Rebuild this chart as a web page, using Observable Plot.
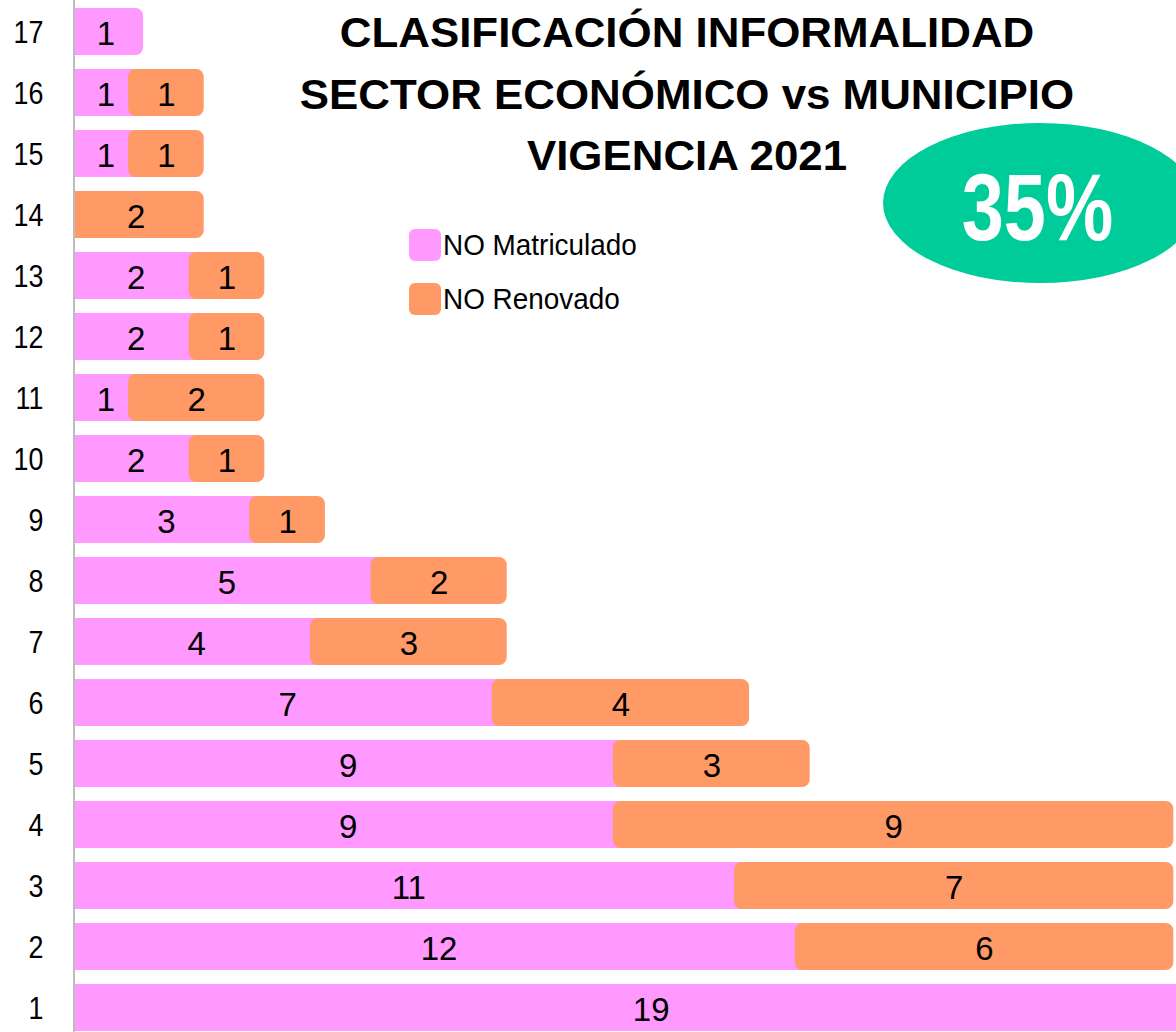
<!DOCTYPE html>
<html>
<head>
<meta charset="utf-8">
<script src="https://cdn.jsdelivr.net/npm/d3@7"></script>
<script src="https://cdn.jsdelivr.net/npm/@observablehq/plot@0.6"></script>
<style>
  html, body { margin: 0; padding: 0; background: #fff; }
  #wrap { position: relative; width: 1176px; height: 1032px; overflow: hidden; font-family: 'Liberation Sans', Arial, sans-serif; }
  .leg { position: absolute; left: 409px; display: flex; align-items: center; font-size: 30px; color: #000; white-space: nowrap; }
  .sw { width: 32px; height: 32px; border-radius: 6px; margin-right: 2px; flex: none; }
  .leg span { display: inline-block; transform: scaleX(0.93); transform-origin: left center; }
</style>
</head>
<body>
<div id="wrap"></div>
<script>
const categories = ["1","2","3","4","5","6","7","8","9","10","11","12","13","14","15","16","17"];
const noMatriculado = [19,12,11,9,9,7,4,5,3,2,1,2,2,0,1,1,1];
const noRenovado    = [0,6,7,9,3,4,3,2,1,1,2,1,1,2,1,1,0];
const seriesNames = ["NO Matriculado", "NO Renovado"];
const seriesColors = ["#FF99FF", "#FF9966"];
const titleLines = ["CLASIFICACIÓN INFORMALIDAD", "SECTOR ECONÓMICO vs MUNICIPIO", "VIGENCIA 2021"];
const badgeText = "35%";

const data = [];
categories.forEach((c, i) => {
  data.push({cat: c, series: seriesNames[0], value: noMatriculado[i]});
  data.push({cat: c, series: seriesNames[1], value: noRenovado[i]});
});

const FONT = "'Liberation Sans', Arial, sans-serif";
const pxPerUnit = 60.6;
const W = 1176, H = 1032, ML = 75;

const plot = Plot.plot({
  width: W, height: H,
  marginLeft: ML, marginRight: 0, marginTop: 0, marginBottom: 0,
  style: {fontFamily: FONT, background: "transparent", color: "#000"},
  x: {domain: [0, (W - ML) / pxPerUnit], axis: null},
  y: {domain: categories.slice().reverse(), range: [1, 1038.5], padding: 0, label: null},
  color: {domain: seriesNames, range: seriesColors},
  marks: [
    Plot.barX(data, Plot.stackX({
      x: "value", y: "cat", z: "series", fill: "series", stroke: "series",
      strokeWidth: 15, strokeLinejoin: "round",
      insetTop: 14.5, insetBottom: 14.5,
      filter: d => d.value > 0, clip: true
    })),
    Plot.text(data, Plot.stackX({
      x: "value", y: "cat", z: "series", text: d => String(d.value),
      filter: d => d.value > 0, fontSize: 33, fill: "#000", dy: 2,
      ariaLabel: "bar-value"
    })),
    Plot.ruleX([0], {stroke: "#a6a6a6", strokeWidth: 1.5, dx: -1.5}),
    Plot.axisY({tickSize: 0, tickPadding: 32, fontSize: 32, textAnchor: "end", dy: 1, label: null})
  ]
});

const svg = d3.select(plot);
titleLines.forEach((t, i) => {
  svg.append("text")
    .attr("text-anchor", "middle")
    .attr("font-family", FONT)
    .attr("font-weight", "bold")
    .attr("font-size", 42)
    .attr("fill", "#000")
    .attr("transform", `translate(687,${47 + i * 61.5}) scale(1.045,1)`)
    .text(t);
});
svg.append("ellipse")
  .attr("cx", 1040).attr("cy", 203).attr("rx", 157).attr("ry", 80)
  .attr("fill", "#00CC99");
svg.append("text")
  .attr("text-anchor", "middle")
  .attr("font-family", FONT)
  .attr("font-weight", "bold")
  .attr("font-size", 94)
  .attr("fill", "#fff")
  .attr("transform", "translate(1037.5,240) scale(0.805,1)")
  .text(badgeText);

const wrap = document.getElementById("wrap");
wrap.appendChild(plot);

// horizontally condense text (narrow-font look) once it is in the DOM
function squeeze(el, s) {
  const len = el.getComputedTextLength();
  if (len > 0) {
    el.setAttribute("textLength", (len * s).toFixed(2));
    el.setAttribute("lengthAdjust", "spacingAndGlyphs");
  }
}
svg.selectAll('g[aria-label="bar-value"] text').each(function() { squeeze(this, 0.83); });
svg.selectAll('g[aria-label="y-axis tick label"] text').each(function() { squeeze(this, 0.84); });

seriesNames.forEach((name, i) => {
  const row = document.createElement("div");
  row.className = "leg";
  row.style.top = (228 + i * 53.5) + "px";
  const sw = document.createElement("div");
  sw.className = "sw";
  sw.style.background = seriesColors[i];
  const lab = document.createElement("span");
  lab.textContent = name;
  row.appendChild(sw);
  row.appendChild(lab);
  wrap.appendChild(row);
});
</script>
</body>
</html>
